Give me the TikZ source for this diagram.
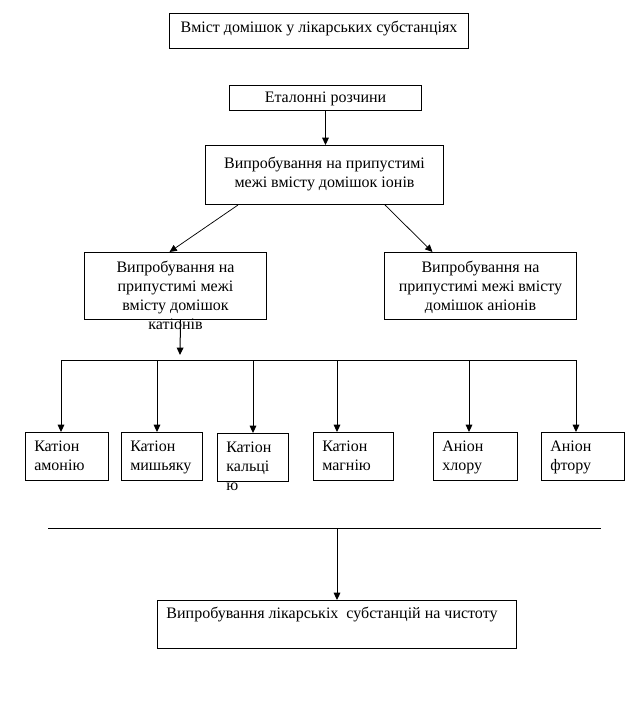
\documentclass[tikz,border=0pt]{standalone}
\usepackage{fontspec}
\setmainfont{Liberation Serif}
\usetikzlibrary{arrows.meta,calc}
\newcommand{\mkbox}[5]{\node[box, minimum width={(#4-#2)*0.75pt}, minimum height={(#5-#3)*0.75pt}] (#1) at (#2,#3) {};}
\tikzset{
  box/.style={draw, line width=0.75pt, inner sep=0pt, anchor=north west},
  txt/.style={inner sep=0pt, align=center, anchor=north, font=\fontsize{12}{14.25}\selectfont},
  ltxt/.style={inner sep=0pt, align=left, anchor=north west, font=\fontsize{12}{14.25}\selectfont},
  arr/.style={line width=0.75pt, -{Triangle[width=5pt,length=5.5pt]}},
  darr/.style={line width=0.55pt, -{Triangle[width=5pt,length=5.5pt]}},
  ln/.style={line width=0.75pt}
}
\begin{document}
\begin{tikzpicture}[x=0.75pt,y=-0.75pt]
\fill[white] (0,0) rectangle (637,709);
\useasboundingbox (0,0) rectangle (637,709);

\mkbox{t}{169}{13}{468}{48}
\mkbox{et}{229}{85}{421}{110}
\mkbox{ions}{205}{145}{443}{204}
\mkbox{cat}{84}{252}{266}{319}
\mkbox{an}{384}{252}{576}{319}
\mkbox{k1}{25}{432}{108}{480}
\mkbox{k2}{121}{432}{202}{480}
\mkbox{k3}{217}{433}{288}{481}
\mkbox{k4}{313}{432}{393}{480}
\mkbox{k5}{433}{432}{517}{480}
\mkbox{k6}{541}{432}{624}{480}
\mkbox{fin}{157}{600}{516}{648}

\node[txt] (tT) at ($(t.north)+(0,8)$) {Вміст домішок у лікарських субстанціях};
\node[txt] (etT) at ($(et.north)+(0,7)$) {Еталонні розчини};
\node[txt] (ionsT) at ($(ions.north)+(0,12)$) {Випробування на припустимі\\межі вмісту домішок іонів};
\node[txt] (catT) at ($(cat.north)+(0,9)$) {Випробування на\\припустимі межі\\вмісту домішок\\катіонів};
\node[txt] (anT) at ($(an.north)+(0,9)$) {Випробування на\\припустимі межі вмісту\\домішок аніонів};
\node[ltxt] (k1T) at ($(k1.north west)+(9,9)$) {Катіон\\амонію};
\node[ltxt] (k2T) at ($(k2.north west)+(9,9)$) {Катіон\\мишьяку};
\node[ltxt] (k3T) at ($(k3.north west)+(9,9)$) {Катіон\\кальці\\ю};
\node[ltxt] (k4T) at ($(k4.north west)+(9,9)$) {Катіон\\магнію};
\node[ltxt] (k5T) at ($(k5.north west)+(9,9)$) {Аніон\\хлору};
\node[ltxt] (k6T) at ($(k6.north west)+(9,9)$) {Аніон\\фтору};
\node[txt] (finT) at ($(fin.north)+(-5,7)$) {Випробування лікарськіх\ \ субстанцій на чистоту};

% connectors
\draw[arr] (et.south) -- (et.south |- ions.north);
\draw[darr] ($(ions.south west)+(33,0)$) -- ($(cat.north)+(-6,0)$);
\draw[darr] ($(ions.south east)+(-59,0)$) -- ($(an.north)+(-48,0)$);

\coordinate (busA) at (180,355);
\draw[arr] ($(cat.south)+(5,0)$) -- (busA);

\coordinate (b1) at (61,360);
\coordinate (b2) at (157,360);
\coordinate (b3) at (253,360);
\coordinate (b4) at (337,360);
\coordinate (b5) at (469,360);
\coordinate (b6) at (576,360);
\draw[ln] (b1) -- (b6);
\draw[arr] (b1) -- (b1 |- k1.north);
\draw[arr] (b2) -- (b2 |- k2.north);
\draw[arr] (b3) -- (b3 |- k3.north);
\draw[arr] (b4) -- (b4 |- k4.north);
\draw[arr] (b5) -- (b5 |- k5.north);
\draw[arr] (b6) -- (b6 |- k6.north);

\coordinate (L1) at (48,528);
\coordinate (L2) at (601,528);
\coordinate (Lm) at (337,528);
\draw[ln] (L1) -- (L2);
\draw[arr] (Lm) -- (Lm |- fin.north);
\end{tikzpicture}
\end{document}
